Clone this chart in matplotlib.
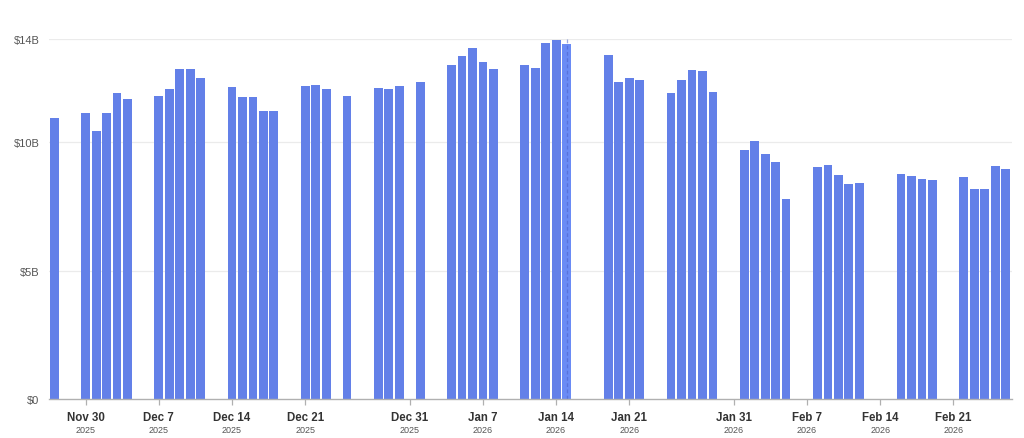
import matplotlib
matplotlib.use("Agg")
import matplotlib.pyplot as plt
import matplotlib.dates as mdates
import matplotlib.transforms as mtransforms
import pandas as pd
import numpy as np

# ---- data ----
trading_days = pd.bdate_range("2025-11-28", "2026-02-27")
holidays = pd.to_datetime(["2025-12-25", "2026-01-01", "2026-01-19", "2026-02-16"])
# days where the chart has no bar (holidays plus early-December gap etc.)
dates = [d for d in trading_days if d not in holidays]

values_b = [
    10.94,                                  # Nov 28
    11.15, 10.42, 11.15, 11.90, 11.68,      # Dec 1-5
    11.80, 12.08, 12.84, 12.86, 12.51,      # Dec 8-12
    12.16, 11.76, 11.76, 11.21, 11.20,      # Dec 15-19
    12.20, 12.23, 12.07, 11.80,             # Dec 22-24, 26
    12.11, 12.06, 12.20, 12.33,             # Dec 29-31, Jan 2
    13.00, 13.36, 13.65, 13.12, 12.86,      # Jan 5-9
    12.99, 12.87, 13.85, 13.98, 13.83,      # Jan 12-16
    13.38, 12.33, 12.51, 12.40,             # Jan 20-23
    11.93, 12.42, 12.81, 12.76, 11.95,      # Jan 26-30
    9.71, 10.03, 9.53, 9.21, 7.79,          # Feb 2-6
    9.05, 9.10, 8.72, 8.39, 8.41,           # Feb 9-13
    8.75, 8.70, 8.55, 8.51,                 # Feb 17-20
    8.63, 8.19, 8.19, 9.07, 8.96,           # Feb 23-27
]

tick_dates = ["2025-11-30", "2025-12-07", "2025-12-14", "2025-12-21", "2025-12-31",
              "2026-01-07", "2026-01-14", "2026-01-21", "2026-01-31", "2026-02-07",
              "2026-02-14", "2026-02-21"]
tick_main = ["Nov 30", "Dec 7", "Dec 14", "Dec 21", "Dec 31", "Jan 7", "Jan 14",
             "Jan 21", "Jan 31", "Feb 7", "Feb 14", "Feb 21"]
tick_year = ["2025", "2025", "2025", "2025", "2025", "2026", "2026", "2026",
             "2026", "2026", "2026", "2026"]

y_ticks = [0, 5, 10, 14]
y_labels = ["$0", "$5B", "$10B", "$14B"]

hover_date = "2026-01-16"

# ---- plot ----
plt.rcParams["font.family"] = ["Liberation Sans", "DejaVu Sans"]

W, H = 1024, 439
fig = plt.figure(figsize=(W / 100, H / 100), dpi=100)
ax = fig.add_axes([49.3 / W, (H - 400.3) / H, (1011.7 - 49.3) / W, (400.3 - 40.3) / H])

# bars are displayed one day earlier than the trading date (timezone shift)
disp = [mdates.date2num(d - pd.Timedelta(days=1)) for d in dates]
bar_color = "#6380E8"
hover_num = mdates.date2num(pd.Timestamp(hover_date) - pd.Timedelta(days=1))
colors = ["#6A8BF5" if abs(x - hover_num) < 0.01 else bar_color for x in disp]

ax.bar(disp, values_b, width=0.84, color=colors, zorder=3, linewidth=0)

ax.set_xlim(disp[0] - 0.48, disp[-1] + 0.58)
ax.set_ylim(0, 14)

# grid
for y in y_ticks[1:]:
    ax.axhline(y, color="#EBEBEB", lw=0.9, zorder=1)

for s in ["top", "right", "left"]:
    ax.spines[s].set_visible(False)
ax.spines["bottom"].set_color("#B0B0B0")
ax.spines["bottom"].set_linewidth(1.0)
ax.spines["bottom"].set_zorder(4)

ax.set_yticks(y_ticks)
ax.set_yticklabels(y_labels, fontsize=8, color="#555555")
ax.tick_params(axis="y", length=0, pad=7)

tick_nums = [mdates.date2num(pd.Timestamp(t)) for t in tick_dates]
ax.set_xticks(tick_nums)
ax.set_xticklabels([""] * len(tick_nums))
ax.tick_params(axis="x", length=4, width=0.9, color="#B0B0B0")

trans = mtransforms.blended_transform_factory(ax.transData, ax.transAxes)
ax_h_px = 400.3 - 40.3
for x, m, yv in zip(tick_nums, tick_main, tick_year):
    ax.text(x, -(418 - 400.3) / ax_h_px, m, transform=trans, ha="center", va="center",
            fontsize=8.3, fontweight="bold", color="#333333")
    ax.text(x, -(430.5 - 400.3) / ax_h_px, yv, transform=trans, ha="center", va="center",
            fontsize=6.5, color="#555555")

# hover crosshair
ax.axvline(hover_num, ymin=0, ymax=1.005, color="#4A5FC8", lw=0.9, ls=(0, (3, 2)),
           alpha=0.55, zorder=4, clip_on=False)

fig.savefig("out.png", dpi=100)
